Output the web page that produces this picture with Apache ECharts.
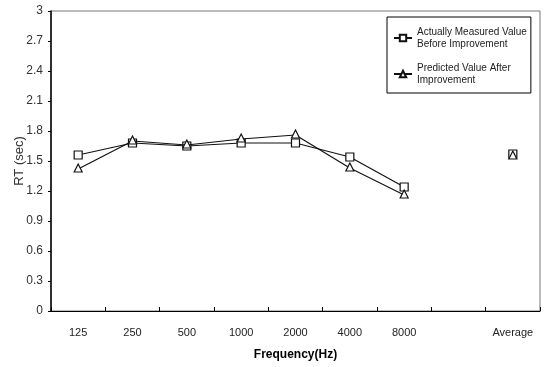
<!DOCTYPE html>
<html>
<head>
<meta charset="utf-8">
<script src="https://cdn.jsdelivr.net/npm/echarts@6/dist/echarts.min.js"></script>
<style>
  html, body { margin: 0; padding: 0; background: #fff; }
  #chart { width: 546px; height: 367px; }
</style>
</head>
<body>
<div id="chart"></div>
<script>
// Frequency bands (an empty slot separates the bands from the average)
const categories = ['125', '250', '500', '1000', '2000', '4000', '8000', '', 'Average'];

// Reverberation time, seconds
const measuredBefore = [1.56, 1.68, 1.65, 1.68, 1.68, 1.54, 1.24, null, 1.57];
const predictedAfter = [1.42, 1.70, 1.66, 1.72, 1.76, 1.43, 1.16, null, 1.55];

const yTicks = { min: 0, max: 3, interval: 0.3 };

const chart = echarts.init(document.getElementById('chart'), null, { renderer: 'canvas' });

const labelFont = '"Liberation Sans", Arial, sans-serif';

chart.setOption({
  animation: false,
  backgroundColor: '#ffffff',
  grid: {
    left: 51, right: 6, top: 11, bottom: 56,
    containLabel: false,
    outerBoundsMode: 'none',
    show: true, borderColor: '#777', borderWidth: 1
  },
  legend: {
    orient: 'vertical',
    left: 387,
    top: 17,
    width: 141,
    padding: [9, 4, 7, 6],
    itemGap: 12,
    itemWidth: 18,
    itemHeight: 8,
    borderColor: '#000',
    borderWidth: 1,
    backgroundColor: '#fff',
    textStyle: { fontFamily: labelFont, fontSize: 10, color: '#222', lineHeight: 12 },
    data: [
      { name: 'Actually Measured Value\nBefore Improvement' },
      { name: 'Predicted Value After\nImprovement' }
    ]
  },
  xAxis: {
    type: 'category',
    data: categories,
    boundaryGap: true,
    name: 'Frequency(Hz)',
    nameLocation: 'middle',
    nameGap: 38,
    nameMoveOverlap: false,
    nameTextStyle: { fontFamily: labelFont, fontSize: 12, color: '#000', fontWeight: 'bold' },
    axisLine: { lineStyle: { color: '#000', width: 1 } },
    axisTick: { show: true, inside: true, length: 4, lineStyle: { color: '#000' } },
    axisLabel: { fontFamily: labelFont, fontSize: 11, color: '#222', margin: 16 },
    splitLine: { show: false }
  },
  yAxis: {
    type: 'value',
    min: yTicks.min,
    max: yTicks.max,
    interval: yTicks.interval,
    name: 'RT (sec)',
    nameLocation: 'middle',
    nameGap: 25,
    nameMoveOverlap: false,
    nameTextStyle: { fontFamily: labelFont, fontSize: 13, color: '#333' },
    axisLine: { show: true, lineStyle: { color: '#000', width: 1.5 } },
    axisTick: { show: true, inside: false, length: 3, lineStyle: { color: '#000' } },
    axisLabel: {
      fontFamily: labelFont, fontSize: 12, color: '#333', margin: 8,
      formatter: v => String(Math.round(v * 10) / 10)
    },
    splitLine: { show: false }
  },
  series: [
    {
      name: 'Actually Measured Value\nBefore Improvement',
      type: 'line',
      data: measuredBefore,
      connectNulls: false,
      symbol: 'rect',
      symbolSize: 8,
      lineStyle: { color: '#111', width: 1.2 },
      itemStyle: { color: '#fff', borderColor: '#111', borderWidth: 1.2 },
      z: 2
    },
    {
      name: 'Predicted Value After\nImprovement',
      type: 'line',
      data: predictedAfter,
      connectNulls: false,
      symbol: 'triangle',
      symbolSize: [8, 8],
      symbolOffset: [0, -1],
      lineStyle: { color: '#111', width: 1.2 },
      itemStyle: { color: '#fff', borderColor: '#111', borderWidth: 1.2 },
      z: 3
    }
  ]
});
</script>
</body>
</html>
